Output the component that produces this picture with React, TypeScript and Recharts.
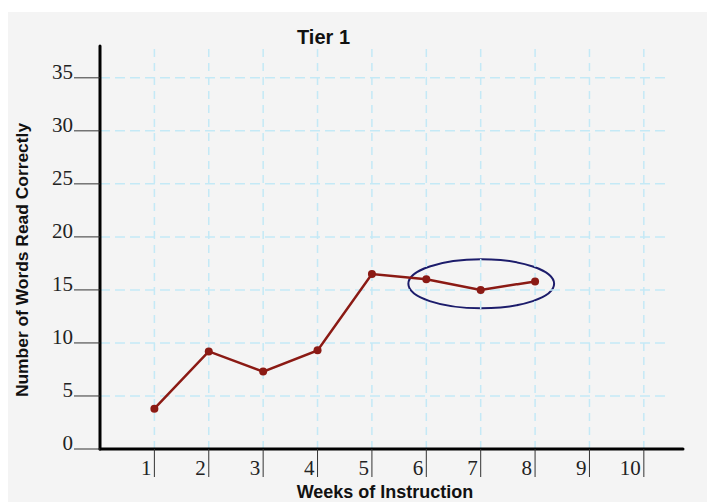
import React from "react";
import { LineChart, Line, XAxis, YAxis, ReferenceLine, ReferenceArea } from "recharts";

// weekly probe scores, Tier 1
const weeks = [1, 2, 3, 4, 5, 6, 7, 8];
const wordsRead = [3.8, 9.2, 7.3, 9.3, 16.5, 16, 15, 15.8];
const weekTicks = [1, 2, 3, 4, 5, 6, 7, 8, 9, 10];
const wordTicks = [0, 5, 10, 15, 20, 25, 30, 35];

// ellipse around the plateau (weeks 6-8), in data units
const circled = { x1: 5.67, x2: 8.35, y1: 13.27, y2: 17.89 };
const gridRight = 10.48;
const gridTop = 37.8;

const data = weeks.map((w, i) => ({ week: w, words: wordsRead[i] }));

const LINE = "#8b1a14";
const GRID = "#c4e9f6";
const serif = "'Liberation Serif', 'Times New Roman', serif";
const sans = "'Liberation Sans', Arial, sans-serif";

function YTick({ x, y, payload }: any) {
  return (
    <g>
      <line x1={x - 26} x2={x} y1={y} y2={y} stroke="#333" strokeWidth={1} />
      <text x={x - 27} y={y + 1} textAnchor="end" fontFamily={serif} fontSize={21} fill="#222">
        {payload.value}
      </text>
    </g>
  );
}

function XTick({ x, y, payload }: any) {
  return (
    <g>
      <line x1={x} x2={x} y1={y} y2={y + 28} stroke="#333" strokeWidth={1} />
      <text x={x - 3} y={y + 26} textAnchor="end" fontFamily={serif} fontSize={21} fill="#222">
        {payload.value}
      </text>
    </g>
  );
}

function Ellipse({ x, y, width, height }: any) {
  return (
    <ellipse cx={x + width / 2} cy={y + height / 2} rx={width / 2} ry={height / 2}
      fill="none" stroke="#1c1c6b" strokeWidth={2} />
  );
}

export default function App() {
  return (
    <div style={{ position: "fixed", left: 8, top: 12, width: 699, height: 490, background: "#f4f4f4", overflow: "hidden" }}>
      <LineChart width={699} height={490} data={data} margin={{ top: 34, right: 24, bottom: 0, left: 0 }}>
        {weekTicks.map((v) => (
          <ReferenceLine key={"v" + v} segment={[{ x: v, y: 0 }, { x: v, y: gridTop }]}
            stroke={GRID} strokeDasharray="8 6" strokeWidth={1.5} />
        ))}
        {wordTicks.filter((v) => v > 0).map((v) => (
          <ReferenceLine key={"h" + v} segment={[{ x: 0, y: v }, { x: gridRight, y: v }]}
            stroke={GRID} strokeDasharray="10 5" strokeWidth={1.5} />
        ))}
        <XAxis type="number" dataKey="week" domain={[0, 10.72]} ticks={weekTicks} interval={0}
          height={53} tickSize={0} tickMargin={0} tickLine={false} tick={<XTick />}
          axisLine={{ stroke: "#000", strokeWidth: 3, strokeLinecap: "round" }} />
        <YAxis type="number" domain={[0, 38]} ticks={wordTicks} interval={0}
          width={92} tickSize={0} tickMargin={0} tickLine={false} tick={<YTick />}
          axisLine={{ stroke: "#000", strokeWidth: 3, strokeLinecap: "round" }} />
        <ReferenceArea x1={circled.x1} x2={circled.x2} y1={circled.y1} y2={circled.y2} shape={<Ellipse />} />
        <Line type="linear" dataKey="words" stroke={LINE} strokeWidth={2.5}
          dot={{ r: 4, fill: LINE, stroke: LINE, strokeWidth: 0 }} isAnimationActive={false} />
      </LineChart>
      <svg width={699} height={490} style={{ position: "absolute", left: 0, top: 0, pointerEvents: "none" }}>
        <text x={315.5} y={31.5} textAnchor="middle" fontFamily={sans} fontWeight="bold" fontSize={20} fill="#111">
          Tier 1
        </text>
        <text x={19.5} y={248} textAnchor="middle" fontFamily={sans} fontWeight="bold" fontSize={17.4} fill="#111"
          transform="rotate(-90, 19.5, 248)">
          Number of Words Read Correctly
        </text>
        <text x={377} y={485.5} textAnchor="middle" fontFamily={sans} fontWeight="bold" fontSize={18} fill="#111">
          Weeks of Instruction
        </text>
      </svg>
    </div>
  );
}
